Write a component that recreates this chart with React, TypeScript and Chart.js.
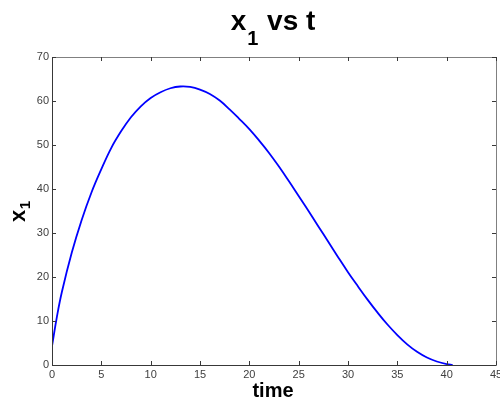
import React, { useEffect, useRef } from "react";
import { Chart, registerables } from "chart.js";

Chart.register(...registerables);

// ---- data ----
const times = [
  0, 0.5, 1, 2, 3, 4, 5, 6, 7, 8, 9, 10, 11, 12, 13, 14, 15, 16, 17, 18, 19,
  20, 21, 22, 23, 24, 25, 26, 27, 28, 29, 30, 31, 32, 33, 34, 35, 36, 37, 38,
  39, 40, 40.6,
];
const x1Values = [
  4.3, 11.0, 16.6, 25.5, 32.9, 39.2, 44.5, 49.3, 53.1, 56.3, 58.8, 60.7, 62.0,
  62.9, 63.3, 63.2, 62.6, 61.6, 60.1, 58.1, 55.9, 53.6, 51.0, 48.2, 45.1,
  41.8, 38.4, 35.0, 31.5, 28.0, 24.5, 21.1, 17.9, 14.8, 11.9, 9.2, 6.8, 4.7,
  3.0, 1.7, 0.8, 0.2, 0,
];
const xTickValues = [0, 5, 10, 15, 20, 25, 30, 35, 40, 45];
const yTickValues = [0, 10, 20, 30, 40, 50, 60, 70];

const titleMain = "x";
const titleSub = "1";
const titleRest = " vs t";
const xAxisLabel = "time";
const yAxisMain = "x";
const yAxisSub = "1";

const FONT = "'Liberation Sans', Arial, Helvetica, sans-serif";

const decorPlugin = {
  id: "matlabDecor",
  afterDraw(chart: any) {
    const ctx = chart.ctx as CanvasRenderingContext2D;
    const { left, right, top, bottom } = chart.chartArea;
    const xs = chart.scales.x;
    const ys = chart.scales.y;
    ctx.save();

    // box
    ctx.lineWidth = 1;
    ctx.strokeStyle = "#808080";
    ctx.beginPath();
    ctx.moveTo(Math.round(left) + 0.5, Math.round(top) + 0.5);
    ctx.lineTo(Math.round(right) + 0.5, Math.round(top) + 0.5);
    ctx.lineTo(Math.round(right) + 0.5, Math.round(bottom) + 0.5);
    ctx.stroke();
    ctx.strokeStyle = "#383838";
    ctx.beginPath();
    ctx.moveTo(Math.round(left) + 0.5, Math.round(top) + 0.5);
    ctx.lineTo(Math.round(left) + 0.5, Math.round(bottom) + 0.5);
    ctx.lineTo(Math.round(right) + 0.5, Math.round(bottom) + 0.5);
    ctx.stroke();

    // inward ticks
    const tl = 4;
    ctx.strokeStyle = "#383838";
    ctx.beginPath();
    xTickValues.forEach((v) => {
      const px = Math.round(xs.getPixelForValue(v)) + 0.5;
      ctx.moveTo(px, Math.round(bottom));
      ctx.lineTo(px, Math.round(bottom) - tl);
      ctx.moveTo(px, Math.round(top));
      ctx.lineTo(px, Math.round(top) + tl);
    });
    yTickValues.forEach((v) => {
      const py = Math.round(ys.getPixelForValue(v)) + 0.5;
      ctx.moveTo(Math.round(left), py);
      ctx.lineTo(Math.round(left) + tl, py);
      ctx.moveTo(Math.round(right), py);
      ctx.lineTo(Math.round(right) - tl, py);
    });
    ctx.stroke();

    ctx.fillStyle = "#000";
    ctx.textBaseline = "alphabetic";
    ctx.textAlign = "left";

    // title with subscript
    const mainFont = `bold 28px ${FONT}`;
    const subFont = `bold 20px ${FONT}`;
    ctx.font = mainFont;
    const wMain = ctx.measureText(titleMain).width;
    const wRest = ctx.measureText(titleRest).width;
    ctx.font = subFont;
    const wSub = ctx.measureText(titleSub).width;
    const total = wMain + wSub + wRest + 2;
    const cx = (left + right) / 2 - 1;
    let tx = cx - total / 2;
    const tBase = 30;
    ctx.font = mainFont;
    ctx.fillText(titleMain, tx, tBase);
    tx += wMain + 1;
    ctx.font = subFont;
    ctx.fillText(titleSub, tx, tBase + 15);
    tx += wSub + 1;
    ctx.font = mainFont;
    ctx.fillText(titleRest, tx, tBase);

    // x axis label
    ctx.font = `bold 20px ${FONT}`;
    ctx.textAlign = "center";
    ctx.fillText(xAxisLabel, (left + right) / 2 - 1, 397);

    // y axis label (rotated) with subscript
    ctx.textAlign = "left";
    ctx.save();
    ctx.translate(25, 222);
    ctx.rotate(-Math.PI / 2);
    ctx.font = `bold 22px ${FONT}`;
    const wy = ctx.measureText(yAxisMain).width;
    ctx.fillText(yAxisMain, 0, 0);
    ctx.font = `bold 15px ${FONT}`;
    ctx.fillText(yAxisSub, wy + 0.5, 5);
    ctx.restore();

    ctx.restore();
  },
};

export default function App() {
  const ref = useRef<HTMLCanvasElement | null>(null);

  useEffect(() => {
    if (!ref.current) return;
    const points = times.map((t, i) => ({ x: t, y: x1Values[i] }));
    const tickFont = { family: FONT, size: 11 };
    const chart = new Chart(ref.current, {
      type: "scatter",
      data: {
        datasets: [
          {
            label: "x1",
            data: points,
            showLine: true,
            borderColor: "#0000ff",
            backgroundColor: "#0000ff",
            borderWidth: 1.8,
            pointRadius: 0,
            tension: 0.4,
          } as any,
        ],
      },
      options: {
        responsive: false,
        animation: false,
        events: [],
        layout: { padding: { top: 57, right: 4, left: 0, bottom: 0 } },
        plugins: {
          legend: { display: false },
          title: { display: false },
          tooltip: { enabled: false },
        },
        scales: {
          x: {
            type: "linear",
            min: 0,
            max: 45,
            ticks: {
              stepSize: 5,
              font: tickFont,
              color: "#404040",
              padding: 3,
              maxRotation: 0,
              autoSkip: false,
            },
            grid: { display: false, drawTicks: false },
            border: { display: false },
            afterFit(s: any) {
              s.height = 37;
              s.paddingLeft = 0;
              s.paddingRight = 0;
            },
          },
          y: {
            type: "linear",
            min: 0,
            max: 70,
            ticks: {
              stepSize: 10,
              font: tickFont,
              color: "#404040",
              padding: 3,
            },
            grid: { display: false, drawTicks: false },
            border: { display: false },
            afterFit(s: any) {
              s.width = 52;
              s.paddingTop = 0;
              s.paddingBottom = 0;
            },
          },
        },
      },
      plugins: [decorPlugin],
    });
    return () => chart.destroy();
  }, []);

  return (
    <div style={{ position: "absolute", left: 0, top: 0, width: 500, height: 402, background: "#fff" }}>
      <canvas ref={ref} width={500} height={402} style={{ display: "block" }} />
    </div>
  );
}
